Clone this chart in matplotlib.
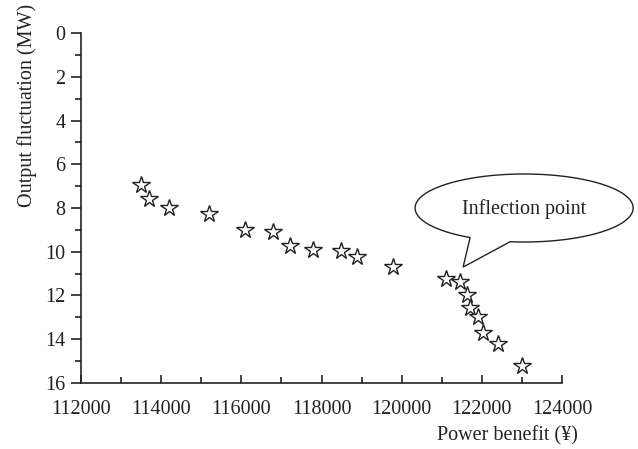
import numpy as np
import matplotlib
matplotlib.use("Agg")
import matplotlib.pyplot as plt
from matplotlib.patches import Polygon

plt.rcParams['font.family'] = ['Liberation Serif', 'DejaVu Serif']

power_benefit = [113490, 113700, 114200, 115190, 116090, 116800, 117220, 117780,
                 118480, 118890, 119790, 121110, 121460, 121620, 121710, 121910,
                 122020, 122410, 123010]
output_fluct = [6.95, 7.60, 7.99, 8.29, 9.01, 9.08, 9.74, 9.92,
                9.95, 10.25, 10.71, 11.26, 11.38, 11.98, 12.58, 12.97,
                13.73, 14.22, 15.22]
x_ticks = [112000, 114000, 116000, 118000, 120000, 122000, 124000]
y_ticks = [0, 2, 4, 6, 8, 10, 12, 14, 16]
callout_text = "Inflection point"

FS = 14.5
fig = plt.figure(figsize=(6.38, 4.49), dpi=100)
ax = fig.add_axes([0.127, 0.147, 0.754, 0.7795])

ax.plot(power_benefit, output_fluct, linestyle='none', marker='*',
        markersize=13, markerfacecolor='white', markeredgecolor='#222222',
        markeredgewidth=1.0, zorder=3)

ax.set_xlim(112000, 124000)
ax.set_ylim(16, 0)
ax.set_xticks(x_ticks)
ax.set_xticklabels([str(v) for v in x_ticks])
ax.set_yticks(y_ticks)
ax.set_xticks(np.arange(113000, 124000, 2000), minor=True)
ax.set_yticks(np.arange(1, 16, 2), minor=True)

for s in ['top', 'right']:
    ax.spines[s].set_visible(False)
for s in ['left', 'bottom']:
    ax.spines[s].set_linewidth(1.2)
    ax.spines[s].set_color('#222222')

ax.tick_params(axis='x', which='major', direction='in', length=6, width=1.2,
               labelsize=FS, pad=12, colors='#222222')
ax.tick_params(axis='x', which='minor', direction='in', length=4, width=1.2,
               colors='#222222')
ax.tick_params(axis='y', which='major', direction='out', length=7, width=1.2,
               labelsize=FS, pad=4, colors='#222222')
ax.tick_params(axis='y', which='minor', direction='out', length=4, width=1.2,
               colors='#222222')

fig.text(578/638, 1 - 436/449, "Power benefit (\u00a5)", ha='right', va='center',
         fontsize=FS, color='#222222')
fig.text(27/638, 1 - 4/449, "Output fluctuation (MW)", rotation=90,
         ha='center', va='top', fontsize=FS, color='#222222')

# callout (ellipse with pointer) in data coordinates
cx, cy, a, b = 123053, 8.0, 2720, 1.554
t_left = np.arccos(-0.495)
t_right = np.arccos(-0.128)
ts = np.linspace(t_left, t_right + 2 * np.pi, 300)
pts = [(cx + a * np.cos(t), cy + b * np.sin(t)) for t in ts]
pts.append((121531, 10.70))
poly = Polygon(pts, closed=True, facecolor='white', edgecolor='#222222',
               linewidth=1.0, clip_on=False, zorder=4)
ax.add_patch(poly)
ax.text(cx, cy + 0.05, callout_text, ha='center', va='center', fontsize=FS,
        color='#222222', zorder=5, clip_on=False)

fig.savefig("out.png", dpi=100, facecolor='white')
